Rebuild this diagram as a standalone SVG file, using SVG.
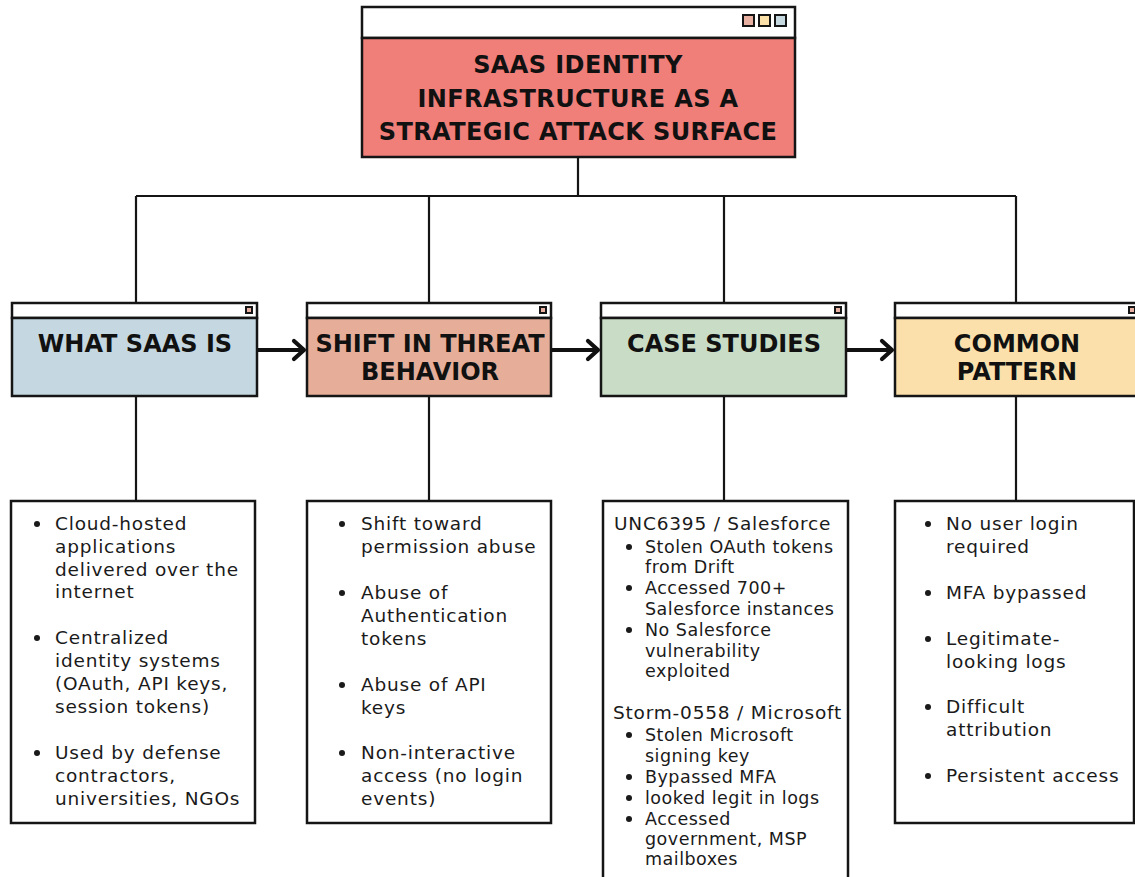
<svg xmlns="http://www.w3.org/2000/svg" width="1135" height="877" viewBox="0 0 1135 877">
<style>
.box{stroke:#151515;stroke-width:2.5}
.bar{fill:#ffffff;stroke:#151515;stroke-width:2.5}
.wire{fill:none;stroke:#151515;stroke-width:2.2}
.flow{fill:none;stroke:#111;stroke-width:4.2;stroke-linecap:round;stroke-linejoin:round}
.h{font-family:"DejaVu Sans","Liberation Sans",sans-serif;font-weight:bold;font-size:24px;fill:#111;text-anchor:middle}
.ht{letter-spacing:0.4px}
.t{font-family:"DejaVu Sans","Liberation Sans",sans-serif;font-size:18.5px;letter-spacing:0.8px;fill:#1a1a1a}
.s{font-family:"DejaVu Sans","Liberation Sans",sans-serif;font-size:17.5px;letter-spacing:0.5px;fill:#1a1a1a}
.dot{fill:#1a1a1a}
.sq{stroke:#151515;stroke-width:2}
</style>
<rect width="1135" height="877" fill="#ffffff"/>
<g id="connectors">
<path class="wire" d="M578 157 V196 M136 196 H1016 M136 196 V303 M429 196 V303 M724 196 V303 M1016 196 V303"/>
<path class="wire" d="M136 396 V501 M429 396 V501 M724 396 V501 M1016 396 V501"/>
<path class="flow" d="M258 350 H304 M294 341 L304 350 L294 359"/>
<path class="flow" d="M552 350 H598 M588 341 L598 350 L588 359"/>
<path class="flow" d="M847 350 H892 M882 341 L892 350 L882 359"/>
</g>
<g id="root">
<rect class="bar" x="362" y="7" width="433" height="31"/>
<rect class="box" x="362" y="38" width="433" height="119" fill="#F07E79"/>
<rect class="sq" x="743" y="15" width="11" height="11" fill="#E8B0A0"/>
<rect class="sq" x="759" y="15" width="11" height="11" fill="#FBE0A8"/>
<rect class="sq" x="775" y="15" width="11" height="11" fill="#C6D8E0"/>
<text class="h ht" x="578" y="73">SAAS IDENTITY</text>
<text class="h ht" x="578" y="107">INFRASTRUCTURE AS A</text>
<text class="h ht" x="578" y="140">STRATEGIC ATTACK SURFACE</text>
</g>
<g id="what-saas-is">
<rect class="bar" x="12" y="303" width="245" height="15"/>
<rect class="box" x="12" y="318" width="245" height="78" fill="#C5D7E0"/>
<rect class="sq" x="246" y="307" width="6" height="6" fill="#E8B0A0" stroke-width="1.5"/>
<text class="h" x="135" y="352">WHAT SAAS IS</text>
</g>
<g id="shift-in-threat">
<rect class="bar" x="307" y="303" width="244" height="15"/>
<rect class="box" x="307" y="318" width="244" height="78" fill="#E6AE99"/>
<rect class="sq" x="540" y="307" width="6" height="6" fill="#E8B0A0" stroke-width="1.5"/>
<text class="h" x="430" y="352">SHIFT IN THREAT</text>
<text class="h" x="430" y="380">BEHAVIOR</text>
</g>
<g id="case-studies">
<rect class="bar" x="601" y="303" width="245" height="15"/>
<rect class="box" x="601" y="318" width="245" height="78" fill="#C8DCC6"/>
<rect class="sq" x="835" y="307" width="6" height="6" fill="#E8B0A0" stroke-width="1.5"/>
<text class="h" x="724" y="352">CASE STUDIES</text>
</g>
<g id="common-pattern">
<rect class="bar" x="895" y="303" width="245" height="15"/>
<rect class="box" x="895" y="318" width="245" height="78" fill="#FBE0AB"/>
<rect class="sq" x="1129" y="307" width="6" height="6" fill="#E8B0A0" stroke-width="1.5"/>
<text class="h" x="1017" y="352">COMMON</text>
<text class="h" x="1017" y="380">PATTERN</text>
</g>
<g id="what-saas-is-details">
<rect class="box" x="11" y="501" width="244" height="322" fill="#fff"/>
<circle class="dot" cx="37" cy="524" r="3"/>
<circle class="dot" cx="37" cy="638" r="3"/>
<circle class="dot" cx="37" cy="753" r="3"/>
<text class="t"><tspan x="55" y="530">Cloud-hosted</tspan><tspan x="55" y="553">applications</tspan><tspan x="55" y="576">delivered over the</tspan><tspan x="55" y="598">internet</tspan>
<tspan x="55" y="644">Centralized</tspan><tspan x="55" y="667">identity systems</tspan><tspan x="55" y="690">(OAuth, API keys,</tspan><tspan x="55" y="713">session tokens)</tspan>
<tspan x="55" y="759">Used by defense</tspan><tspan x="55" y="782">contractors,</tspan><tspan x="55" y="805">universities, NGOs</tspan></text>
</g>
<g id="shift-details">
<rect class="box" x="307" y="501" width="244" height="322" fill="#fff"/>
<circle class="dot" cx="342" cy="524" r="3"/>
<circle class="dot" cx="342" cy="593" r="3"/>
<circle class="dot" cx="342" cy="685" r="3"/>
<circle class="dot" cx="342" cy="753" r="3"/>
<text class="t"><tspan x="361" y="530">Shift toward</tspan><tspan x="361" y="553">permission abuse</tspan>
<tspan x="361" y="599">Abuse of</tspan><tspan x="361" y="622">Authentication</tspan><tspan x="361" y="645">tokens</tspan>
<tspan x="361" y="691"> Abuse of API</tspan><tspan x="361" y="714">keys</tspan>
<tspan x="361" y="759">Non-interactive</tspan><tspan x="361" y="782">access (no login</tspan><tspan x="361" y="805">events)</tspan></text>
</g>
<g id="case-details">
<rect class="box" x="603" y="501" width="245" height="380" fill="#fff"/>
<text class="t"><tspan x="614" y="530">UNC6395 / Salesforce</tspan><tspan x="613" y="719">Storm-0558 / Microsoft</tspan></text>
<circle class="dot" cx="629" cy="547" r="3"/>
<circle class="dot" cx="629" cy="588" r="3"/>
<circle class="dot" cx="629" cy="630" r="3"/>
<circle class="dot" cx="629" cy="735" r="3"/>
<circle class="dot" cx="629" cy="777" r="3"/>
<circle class="dot" cx="629" cy="798" r="3"/>
<circle class="dot" cx="629" cy="819" r="3"/>
<text class="s"><tspan x="645" y="553">Stolen OAuth tokens</tspan><tspan x="645" y="573">from Drift</tspan><tspan x="645" y="594">Accessed 700+</tspan><tspan x="645" y="615">Salesforce instances</tspan><tspan x="645" y="636">No Salesforce</tspan><tspan x="645" y="657">vulnerability</tspan><tspan x="645" y="677">exploited</tspan>
<tspan x="645" y="741">Stolen Microsoft</tspan><tspan x="645" y="762">signing key</tspan><tspan x="645" y="783">Bypassed MFA</tspan><tspan x="645" y="804">looked legit in logs</tspan><tspan x="645" y="825">Accessed</tspan><tspan x="645" y="845">government, MSP</tspan><tspan x="645" y="865">mailboxes</tspan></text>
</g>
<g id="pattern-details">
<rect class="box" x="895" y="501" width="239" height="322" fill="#fff"/>
<circle class="dot" cx="928" cy="524" r="3"/>
<circle class="dot" cx="928" cy="593" r="3"/>
<circle class="dot" cx="928" cy="639" r="3"/>
<circle class="dot" cx="928" cy="707" r="3"/>
<circle class="dot" cx="928" cy="776" r="3"/>
<text class="t"><tspan x="946" y="530">No user login</tspan><tspan x="946" y="553">required</tspan>
<tspan x="946" y="599">MFA bypassed</tspan>
<tspan x="946" y="645">Legitimate-</tspan><tspan x="946" y="668">looking logs</tspan>
<tspan x="946" y="713">Difficult</tspan><tspan x="946" y="736">attribution</tspan>
<tspan x="946" y="782">Persistent access</tspan></text>
</g>
</svg>
